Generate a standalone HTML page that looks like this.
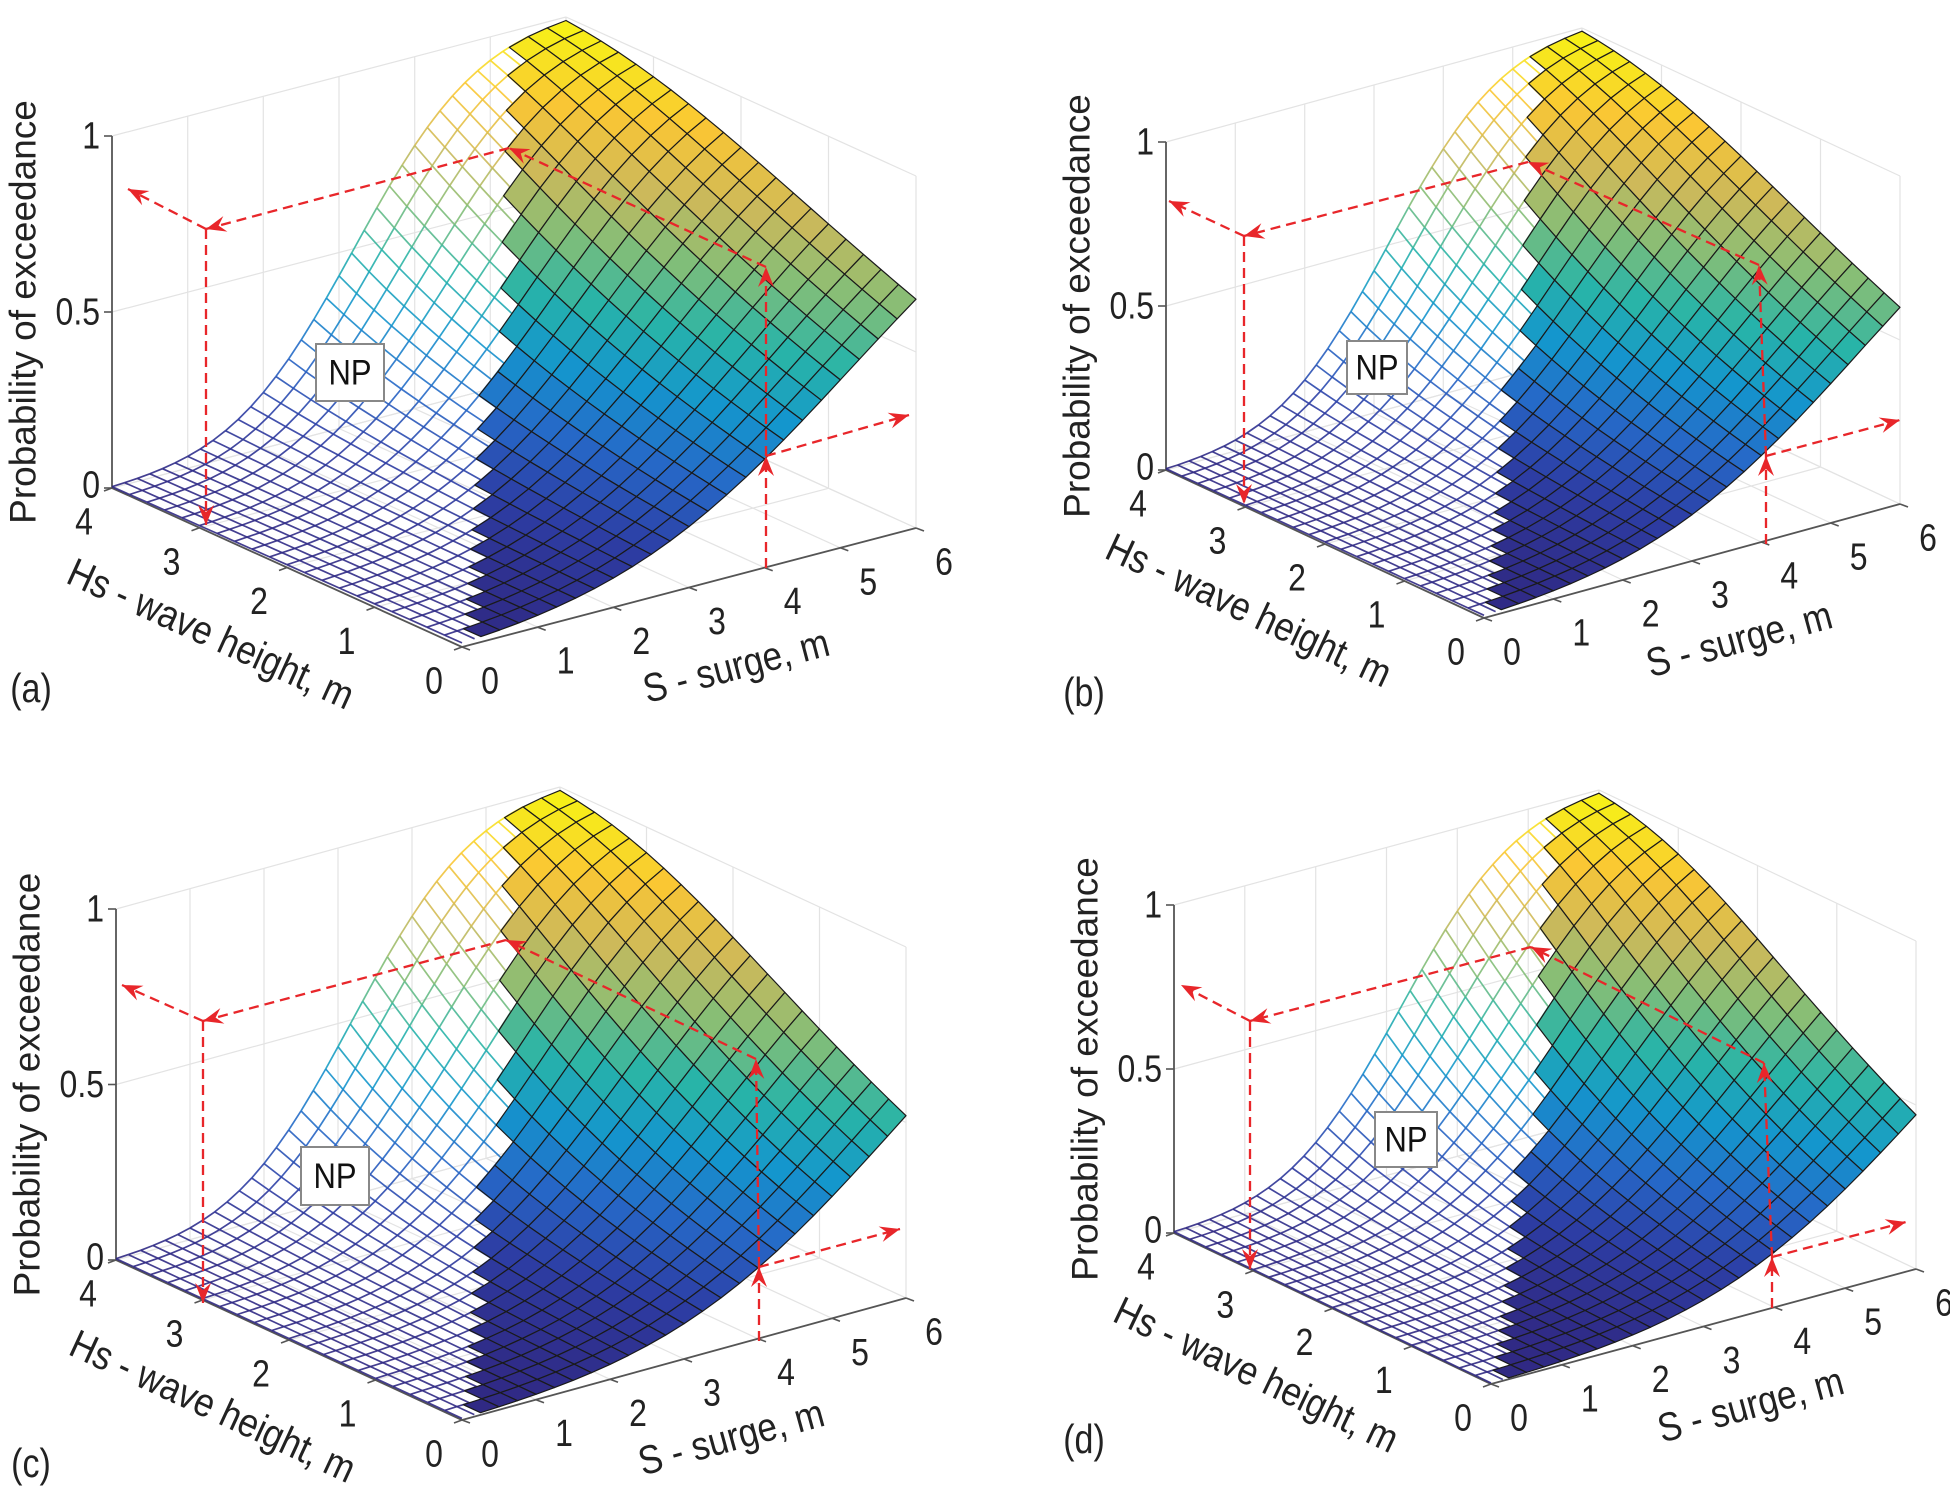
<!DOCTYPE html>
<html><head><meta charset="utf-8"><style>
html,body{margin:0;padding:0;background:#fff;}
svg{display:block;font-family:"Liberation Sans",Arial,sans-serif;}
</style></head><body>
<svg id="s" width="1950" height="1489" viewBox="0 0 1950 1489" xmlns="http://www.w3.org/2000/svg"></svg>
<script>
const svg=document.getElementById('s');
let out='';
const panels=[
 {o:[462,647],H:[-350,-159],S:[454,-119],P:352,mu0:5.13,lab:'(a)',labp:[31,688],np:[316,344,68,57],
  ar:{c:[206,229],ul:[128,189],d:[206,525],t:[509,148],rc:[766,267],b:[766,568],m:[766,456],re:[909,415]},off:[0,0]},
 {o:[509,618],H:[-318,-148],S:[416,-114],P:328,mu0:5.43,lab:'(b)',labp:[109,692],np:[372,341,60,53],
  ar:{c:[269,236],ul:[194,201],d:[269,504],t:[553,162],rc:[784,265],b:[791,544],m:[791,456],re:[925,420]},off:[975,0]},
 {o:[462,676],H:[-346,-160],S:[444,-122],P:351,mu0:5.89,lab:'(c)',labp:[31,719],np:[301,403,68,58],
  ar:{c:[203,277],ul:[122,241],d:[203,559],t:[506,196],rc:[756,315],b:[759,597],m:[759,523],re:[900,485]},off:[0,744]},
 {o:[516,640],H:[-317,-151],S:[425,-115],P:328,mu0:6.17,lab:'(d)',labp:[109,695],np:[400,368,62,55],
  ar:{c:[275,277],ul:[206,241],d:[275,525],t:[556,203],rc:[789,319],b:[797,564],m:[797,513],re:[931,478]},off:[975,744]}
];
const stops=[[0,[48,40,130]],[0.125,[45,62,165]],[0.25,[38,105,200]],[0.375,[20,150,205]],[0.5,[40,180,168]],[0.625,[130,190,120]],[0.75,[205,185,90]],[0.875,[250,198,52]],[1,[246,246,20]]];
function par(v){v=Math.max(0,Math.min(1,v));for(let i=1;i<stops.length;i++){if(v<=stops[i][0]){const a=stops[i-1],b=stops[i];const t=(v-a[0])/(b[0]-a[0]);const c=a[1].map((x,k)=>Math.round(x+(b[1][k]-x)*t));return `rgb(${c[0]},${c[1]},${c[2]})`;}}return 'rgb(246,246,20)';}
function erf(x){const s=x<0?-1:1;x=Math.abs(x);const t=1/(1+0.3275911*x);const y=1-(((((1.061405429*t-1.453152027)*t)+1.421413741)*t-0.284496736)*t+0.254829592)*t*Math.exp(-x*x);return s*y;}
function Phi(z){return 0.5*(1+erf(z/Math.SQRT2));}
const f=n=>n.toFixed(1);
function line(a,b,c,w,extra){return `<line x1="${f(a[0])}" y1="${f(a[1])}" x2="${f(b[0])}" y2="${f(b[1])}" stroke="${c}" stroke-width="${w}" ${extra||''}/>`;}
function txt(x,y,s,size,anchor,rot){return `<text transform="translate(${f(x)},${f(y)}) rotate(${rot||0}) scale(1,1.2)" font-size="${size}" text-anchor="${anchor}" dominant-baseline="central" fill="#222">${s}</text>`;}
function arrow(a,b){
 let s=line(a,b,'#e8262a',2.3,'stroke-dasharray="10,6"');
 const dx=b[0]-a[0],dy=b[1]-a[1],L=Math.hypot(dx,dy),ux=dx/L,uy=dy/L;
 const bx=b[0]-ux*20,by=b[1]-uy*20,px=-uy*8,py=ux*8;
 const nx=b[0]-ux*13,ny=b[1]-uy*13;
 s+=`<polygon points="${f(b[0])},${f(b[1])} ${f(bx+px)},${f(by+py)} ${f(nx)},${f(ny)} ${f(bx-px)},${f(by-py)}" fill="#e8262a"/>`;
 return s;
}
for(const p of panels){
 const ox=p.off[0]+p.o[0],oy=p.off[1]+p.o[1];
 const pr=(S,H,Pv)=>[ox+p.S[0]*S/6+p.H[0]*H/4, oy+p.S[1]*S/6+p.H[1]*H/4-p.P*Pv];
 const mu=H=>p.mu0+(3.2-p.mu0)*H/4, sg=H=>2.26+(1.2-2.26)*H/4;
 const Pf=(S,H)=>Phi((S-mu(H))/sg(H));
 const g='#e3e3e3';
 for(let s=0;s<=6;s++){out+=line(pr(s,4,0),pr(s,4,1),g,1.2);out+=line(pr(s,0,0),pr(s,4,0),g,1.2);}
 for(let h=0;h<=4;h++){out+=line(pr(6,h,0),pr(6,h,1),g,1.2);out+=line(pr(0,h,0),pr(6,h,0),g,1.2);}
 for(const v of [0,0.5,1]){out+=line(pr(0,4,v),pr(6,4,v),g,1.2);out+=line(pr(6,0,v),pr(6,4,v),g,1.2);}
 out+=line(pr(0,4,0),pr(0,4,1),'#555',1.8);
 out+=line(pr(0,0,0),pr(0,4,0),'#555',1.8);
 out+=line(pr(0,0,0),pr(6,0,0),'#555',1.8);
 // mesh (finer in S)
 const NH=20;
 {
  const NS=36;
  const bnd=H=>1.35*H;
  for(let j=NH;j>=0;j--){const H=4*j/NH;let pts=[];const Smax=Math.min(6,bnd(H)+0.15);
   for(let i=0;i<=NS;i++){const S=6*i/NS;if(S>Smax)break;pts.push([S,H]);}
   for(let k=0;k<pts.length-1;k++){const a=pts[k],b=pts[k+1];const va=Pf(a[0],a[1]),vb=Pf(b[0],b[1]);
    out+=line(pr(a[0],a[1],va),pr(b[0],b[1],vb),par((va+vb)/2),1.7,'stroke-opacity="0.9"');}}
  for(let i=0;i<=NS;i++){const S=6*i/NS;const Hmin=Math.max(0,S/1.35-0.15);
   for(let j=NH;j>0;j--){const H1=4*j/NH,H0=4*(j-1)/NH;if(H0<Hmin)break;const va=Pf(S,H1),vb=Pf(S,H0);
    out+=line(pr(S,H1,va),pr(S,H0,vb),par((va+vb)/2),1.7,'stroke-opacity="0.9"');}}
 }
 const NS=24;
 const V=[];
 for(let j=0;j<=NH;j++){V[j]=[];for(let i=0;i<=NS;i++){const S=6*i/NS,H=4*j/NH;const v=Pf(S,H);V[j][i]={p:pr(S,H,v),v};}}
 const filled=(i,j)=>{const S=6*(i+0.5)/NS,H=4*(j+0.5)/NH;return S>1.35*H;};
 for(let j=NH-1;j>=0;j--)for(let i=NS-1;i>=0;i--){if(!filled(i,j))continue;
  const a=V[j][i],b=V[j][i+1],c=V[j+1][i+1],d=V[j+1][i];
  const col=par((a.v+b.v+c.v+d.v)/4);
  out+=`<polygon points="${f(a.p[0])},${f(a.p[1])} ${f(b.p[0])},${f(b.p[1])} ${f(c.p[0])},${f(c.p[1])} ${f(d.p[0])},${f(d.p[1])}" fill="${col}" stroke="#1a1a1a" stroke-width="1.2" stroke-linejoin="round"/>`;}
 const tk=(a,dx,dy)=>line(a,[a[0]+dx,a[1]+dy],'#555',1.6);
 for(let h=0;h<=4;h++){const b=pr(0,h,0);out+=tk(b,-8,3);out+=txt(b[0]-28,b[1]+34,h,32,'middle');}
 for(let s=0;s<=6;s++){const b=pr(s,0,0);out+=tk(b,8,3);out+=txt(b[0]+28,b[1]+34,s,32,'middle');}
 for(const [v,t] of [[0,'0'],[0.5,'0.5'],[1,'1']]){const b=pr(0,4,v);out+=tk(b,-8,0);out+=txt(b[0]-12,b[1]-(v==0?3:0),t,32,'end');}
 const pb=pr(0,4,0.5);
 out+=`<text transform="translate(${f(pb[0]-89)},${f(pb[1])}) rotate(-90)" font-size="37" text-anchor="middle" dominant-baseline="central" fill="#222">Probability of exceedance</text>`;
 const hm=pr(0,2,0),ha=Math.atan2(-p.H[1],-p.H[0])*180/Math.PI;
 out+=`<text transform="translate(${f(hm[0]-76)},${f(hm[1]+66)}) rotate(${f(ha)}) scale(1,1.15)" font-size="35" text-anchor="middle" dominant-baseline="central" fill="#222">Hs - wave height, m</text>`;
 const sm=pr(3,0,0),sa=Math.atan2(p.S[1],p.S[0])*180/Math.PI;
 out+=`<text transform="translate(${f(sm[0]+47)},${f(sm[1]+78)}) rotate(${f(sa)}) scale(1,1.15)" font-size="35" text-anchor="middle" dominant-baseline="central" fill="#222">S - surge, m</text>`;
 const n=p.np;const nx=n[0]+p.off[0],ny=n[1]+p.off[1];
 out+=`<rect x="${nx}" y="${ny}" width="${n[2]}" height="${n[3]}" fill="#fff" stroke="#888" stroke-width="2"/>`;
 out+=`<text transform="translate(${nx+n[2]/2},${ny+n[3]/2+1}) scale(1,1.15)" font-size="31" text-anchor="middle" dominant-baseline="central" fill="#111">NP</text>`;
 const A={};for(const k in p.ar)A[k]=[p.ar[k][0]+p.off[0],p.ar[k][1]+p.off[1]];
 out+=arrow(A.b,A.m)+arrow(A.m,A.rc)+arrow(A.m,A.re)+arrow(A.rc,A.t)+arrow(A.t,A.c)+arrow(A.c,A.ul)+arrow(A.c,A.d);
 out+=txt(p.labp[0]+p.off[0],p.labp[1]+p.off[1],p.lab,34,'middle');
}
svg.innerHTML=out;
</script>
</body></html>
